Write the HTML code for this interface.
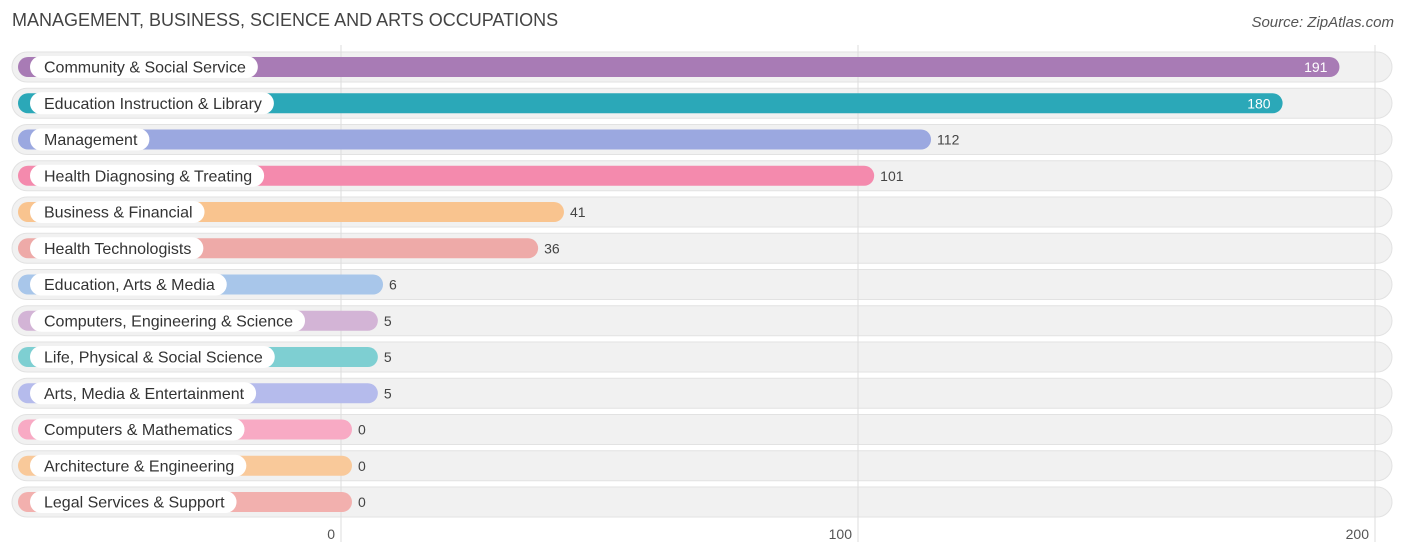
<!DOCTYPE html>
<html><head><meta charset="utf-8"><style>
body{margin:0;background:#fff;font-family:"Liberation Sans",sans-serif;}
#wrap{position:relative;width:1406px;height:558px;overflow:hidden;}
.title{position:absolute;left:12px;top:10px;font-size:18px;color:#444;}
.src{position:absolute;right:12px;top:14px;font-size:15px;color:#555;font-style:italic;}
</style></head><body>
<div id="wrap">
<div class="title">MANAGEMENT, BUSINESS, SCIENCE AND ARTS OCCUPATIONS</div>
<div class="src">Source: ZipAtlas.com</div>
<svg id="svg" width="1406" height="558" style="position:absolute;left:0;top:0"></svg>
</div>
<script>
const categories=["Community & Social Service","Education Instruction & Library","Management","Health Diagnosing & Treating","Business & Financial","Health Technologists","Education, Arts & Media","Computers, Engineering & Science","Life, Physical & Social Science","Arts, Media & Entertainment","Computers & Mathematics","Architecture & Engineering","Legal Services & Support"];
const values=[191,180,112,101,41,36,6,5,5,5,0,0,0];
const colors=["#a87bb5","#2ba8b8","#9ba8e0","#f48aad","#f9c48f","#eeaaa8","#a8c6ea","#d3b4d6","#7ecfd2","#b5bbec","#f8aac4","#f9c99a","#f2b0ae"];
const ticks=[0,100,200];
const svg=document.getElementById('svg');const NS="http://www.w3.org/2000/svg";
function x(v){return 341+v*5.17;}
function barEnd(v){return 352+v*5.17;}
function rowY(i){return 67+i*36.25;}
function mk(t,a,p){const e=document.createElementNS(NS,t);for(const k in a)e.setAttribute(k,a[k]);(p||svg).appendChild(e);return e;}
categories.forEach((c,i)=>{
 const cy=rowY(i);
 const bg=mk('rect',{x:12,y:cy-15,width:1380,height:30,rx:15,fill:'#f1f1f1',stroke:'#e2e2e2'});
 
 
});
ticks.forEach(t=>{
 const l=mk('line',{x1:x(t),x2:x(t),y1:45,y2:542,stroke:'#ddd','stroke-width':1});
 
 
 const tx=mk('text',{x:x(t)-6,y:539,'text-anchor':'end','font-size':14,fill:'#555'});
 tx.textContent=t;
 
 
});
categories.forEach((c,i)=>{
 const cy=rowY(i);const v=values[i];const e=barEnd(v);
 const b=mk('rect',{x:18,y:cy-10,width:e-18,height:20,rx:10,fill:colors[i]});
 
 
 const lp=mk('rect',{x:30,y:cy-11,width:100,height:22,rx:11,fill:'#fff'});
 
 
 const lt=mk('text',{x:44,y:cy+5.5,'font-size':16,fill:'#333'});
 lt.textContent=c;
 
 
 lp.setAttribute('width',lt.getComputedTextLength()+26);
 const inside=v>150;
 const vt=mk('text',{x:inside?e-12:e+6,y:cy+5,'font-size':14,'text-anchor':inside?'end':'start',fill:inside?'#fff':'#444'});
 vt.textContent=v;
 
 
});
</script>
</body></html>
